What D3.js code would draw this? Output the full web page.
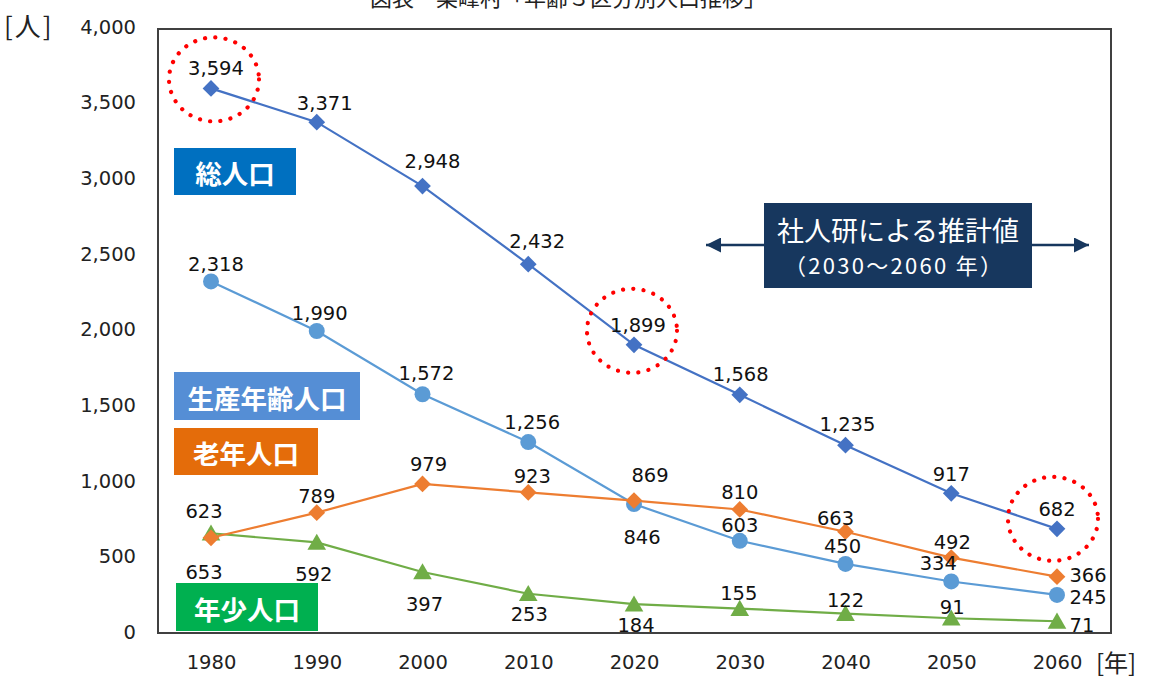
<!DOCTYPE html>
<html lang="ja">
<head>
<meta charset="utf-8">
<script src="https://cdn.jsdelivr.net/npm/d3@7"></script>
<style>
  html, body { margin: 0; padding: 0; background: #ffffff; }
  svg { display: block; }
</style>
</head>
<body>
<svg id="chart" width="1156" height="677"></svg>
<script>
// ---- data ----
const years = [1980, 1990, 2000, 2010, 2020, 2030, 2040, 2050, 2060];
const totalPop   = [3594, 3371, 2948, 2432, 1899, 1568, 1235, 917, 682];
const workingPop = [2318, 1990, 1572, 1256, 846, 603, 450, 334, 245];
const elderlyPop = [623, 789, 979, 923, 869, 810, 663, 492, 366];
const youngPop   = [653, 592, 397, 253, 184, 155, 122, 91, 71];
const yTicks = [0, 500, 1000, 1500, 2000, 2500, 3000, 3500, 4000];
const highlightYears = [1980, 2020, 2060];

// value label placement (pixel offsets from each marker)
const totalLabelOffsets   = [[5,-20],[8,-19],[10,-25],[9,-23],[4,-19],[1,-20],[2,-21],[0,-19],[0,-19]];
const workingLabelOffsets = [[5,-17],[3,-18],[4,-21],[4,-20],[8,33],[0,-15],[-3,-17],[-13,-18],[31,3]];
const elderlyLabelOffsets = [[-7,-26],[0,-16],[6,-19],[4,-16],[16,-25],[0,-17],[-10,-13],[1,-15],[31,-1]];
const youngLabelOffsets   = [[-7,39],[-3,32],[2,33],[1,21],[2,21],[-1,-15],[0,-13],[1,-11],[25,4]];

// square turned 45° for the diamond markers
const symbolRhomb = {
  draw(ctx, size) {
    const r = Math.sqrt(size / 2);
    ctx.moveTo(0, -r); ctx.lineTo(r, 0); ctx.lineTo(0, r); ctx.lineTo(-r, 0); ctx.closePath();
  }
};

const series = [
  { name: "生産年齢人口", values: workingPop, color: "#5B9BD5", symbol: d3.symbolCircle,   size: 200, offsets: workingLabelOffsets },
  { name: "年少人口",     values: youngPop,   color: "#70AD47", symbol: d3.symbolTriangle, size: 150, offsets: youngLabelOffsets },
  { name: "老年人口",     values: elderlyPop, color: "#ED7D31", symbol: symbolRhomb,       size: 140, offsets: elderlyLabelOffsets },
  { name: "総人口",       values: totalPop,   color: "#4472C4", symbol: symbolRhomb,       size: 140, offsets: totalLabelOffsets }
];

const svg = d3.select("#chart");
const numFont = "'DejaVu Sans', Verdana, sans-serif";
const jpFont = "'Noto Sans CJK JP', 'Noto Sans', sans-serif";
const numSize = "19.5px";

const box = { left: 158, right: 1111, top: 29, bottom: 633 };

const x = d3.scalePoint().domain(years).range([211, 1057]);
const y = d3.scaleLinear().domain([0, 4000]).range([632, 27]);

// title (partly above the page edge)
svg.append("text")
  .attr("x", 568).attr("y", 6)
  .attr("text-anchor", "middle")
  .attr("font-family", jpFont).attr("font-size", 22)
  .attr("fill", "#222")
  .text("図表　栗峰村「年齢３区分別人口推移」");

// plot frame
svg.append("rect")
  .attr("x", box.left).attr("y", box.top)
  .attr("width", box.right - box.left).attr("height", box.bottom - box.top)
  .attr("fill", "none").attr("stroke", "#404040").attr("stroke-width", 2);

// y axis labels
const yAxis = d3.axisLeft(y).tickValues(yTicks).tickSize(0).tickPadding(0)
  .tickFormat(d3.format(","));
svg.append("g")
  .attr("transform", "translate(136,0)")
  .call(yAxis)
  .call(g => g.attr("font-size", null).attr("font-family", null))
  .call(g => g.select(".domain").remove())
  .call(g => g.selectAll("text")
    .style("font-family", numFont).style("font-size", numSize).attr("fill", "#222"));

// x axis labels
const xAxis = d3.axisBottom(x).tickSize(0).tickPadding(0);
svg.append("g")
  .attr("transform", "translate(0,655)")
  .call(xAxis)
  .call(g => g.attr("font-size", null).attr("font-family", null))
  .call(g => g.select(".domain").remove())
  .call(g => g.selectAll("text")
    .style("font-family", numFont).style("font-size", numSize).attr("fill", "#222"));

// unit labels
svg.append("text").attr("x", 4).attr("y", 36)
  .attr("font-family", jpFont).attr("font-size", 26).attr("fill", "#222")
  .attr("letter-spacing", 2)
  .text("[人]");
svg.append("text").attr("x", 1096).attr("y", 672)
  .attr("font-family", jpFont).attr("font-size", 24).attr("fill", "#222")
  .text("[年]");

// series lines, markers, labels
const line = d3.line().x((d, i) => x(years[i])).y(d => y(d));

series.forEach(s => {
  svg.append("path")
    .datum(s.values)
    .attr("d", line)
    .attr("fill", "none")
    .attr("stroke", s.color)
    .attr("stroke-width", 2.2);
});

series.forEach(s => {
  const sym = d3.symbol().type(s.symbol).size(s.size);
  svg.append("g").selectAll("path")
    .data(s.values)
    .join("path")
    .attr("d", sym)
    .attr("transform", (d, i) => {
      const dy = s.symbol === d3.symbolTriangle ? 2 : 0;
      return `translate(${x(years[i])},${y(d) + dy})`;
    })
    .attr("fill", s.color);
});

series.forEach(s => {
  svg.append("g").selectAll("text")
    .data(s.values)
    .join("text")
    .attr("x", (d, i) => x(years[i]) + s.offsets[i][0])
    .attr("y", (d, i) => y(d) + s.offsets[i][1])
    .attr("text-anchor", "middle")
    .attr("dominant-baseline", "central")
    .style("font-family", numFont).style("font-size", numSize)
    .attr("fill", "#111")
    .text(d => d3.format(",")(d));
});

// dotted red rings around key totals
const ringData = highlightYears.map(yr => ({ yr, v: totalPop[years.indexOf(yr)] }));
const ringShift = { 1980: [3, -9], 2020: [-2, -14], 2060: [-4, -10] };
svg.append("g").selectAll("ellipse")
  .data(ringData)
  .join("ellipse")
  .attr("cx", d => x(d.yr) + ringShift[d.yr][0])
  .attr("cy", d => y(d.v) + ringShift[d.yr][1])
  .attr("rx", 45).attr("ry", 42)
  .attr("fill", "none")
  .attr("stroke", "#FF0000")
  .attr("stroke-width", 4.2)
  .attr("stroke-linecap", "round")
  .attr("stroke-dasharray", "0.1 10.2");

// series name tags
const tags = [
  { text: "総人口",       fill: "#0070C0", x: 174, y: 148, w: 122, h: 47 },
  { text: "生産年齢人口", fill: "#558ED5", x: 174, y: 372, w: 186, h: 48 },
  { text: "老年人口",     fill: "#E46C0A", x: 174, y: 428, w: 144, h: 47 },
  { text: "年少人口",     fill: "#00B050", x: 176, y: 583, w: 142, h: 48 }
];
tags.forEach(t => {
  svg.append("rect").attr("x", t.x).attr("y", t.y).attr("width", t.w).attr("height", t.h)
    .attr("fill", t.fill);
  svg.append("text")
    .attr("x", t.x + t.w / 2).attr("y", t.y + t.h / 2 + 1)
    .attr("text-anchor", "middle").attr("dominant-baseline", "central")
    .attr("font-family", jpFont).attr("font-weight", 700).attr("font-size", 26.5)
    .attr("fill", "#ffffff")
    .text(t.text);
});

// projection note with arrows
const navy = "#17375E";
const defs = svg.append("defs");
defs.append("marker")
  .attr("id", "arrowHead")
  .attr("viewBox", "0 0 10 10")
  .attr("refX", 10).attr("refY", 5)
  .attr("markerWidth", 6).attr("markerHeight", 6)
  .attr("markerUnits", "strokeWidth")
  .attr("orient", "auto-start-reverse")
  .append("path").attr("d", "M0,0 L10,5 L0,10 Z").attr("fill", navy);

svg.append("line").attr("x1", 764).attr("x2", 706).attr("y1", 245).attr("y2", 245)
  .attr("stroke", navy).attr("stroke-width", 2.5).attr("marker-end", "url(#arrowHead)");
svg.append("line").attr("x1", 1032).attr("x2", 1089).attr("y1", 245).attr("y2", 245)
  .attr("stroke", navy).attr("stroke-width", 2.5).attr("marker-end", "url(#arrowHead)");

svg.append("rect").attr("x", 764).attr("y", 203).attr("width", 268).attr("height", 85)
  .attr("fill", navy);
svg.append("text").attr("x", 898).attr("y", 229)
  .attr("text-anchor", "middle").attr("dominant-baseline", "central")
  .attr("font-family", jpFont).attr("font-size", 27).attr("fill", "#ffffff")
  .text("社人研による推計値");
svg.append("text").attr("x", 893).attr("y", 264)
  .attr("text-anchor", "middle").attr("dominant-baseline", "central")
  .attr("font-family", jpFont).attr("font-size", 22).attr("fill", "#ffffff")
  .attr("textLength", 218).attr("lengthAdjust", "spacing")
  .text("（2030～2060 年）");
</script>
</body>
</html>
